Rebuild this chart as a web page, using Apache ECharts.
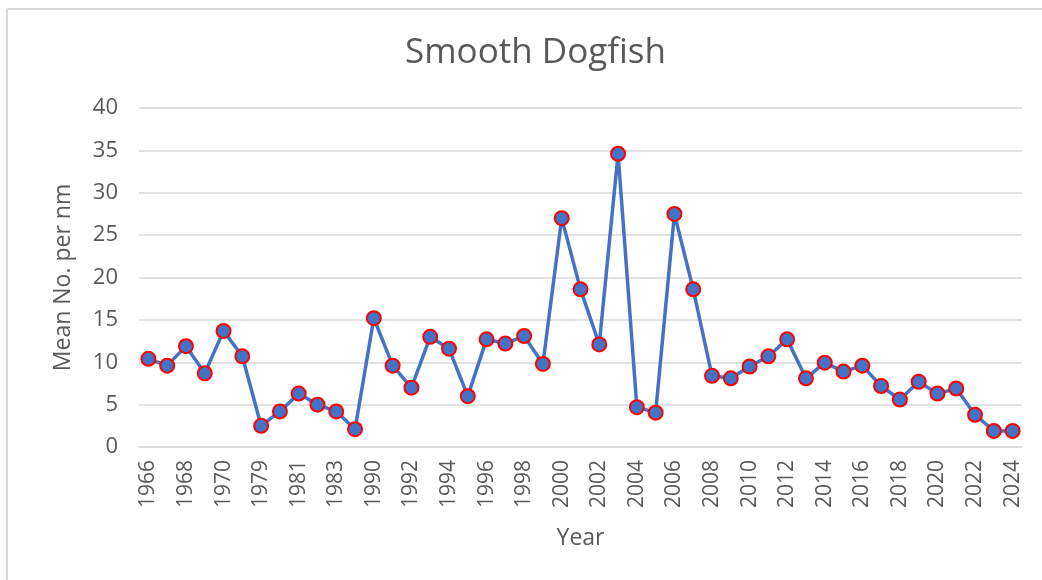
<!DOCTYPE html>
<html>
<head>
<meta charset="utf-8">
<script src="https://cdn.jsdelivr.net/npm/echarts@6/dist/echarts.min.js"></script>
<style>html,body{margin:0;padding:0;background:#fff}#c{width:1042px;height:580px}</style>
</head>
<body>
<div id="c"></div>
<script>
const years = ['1966','1967','1968','1969','1970','1971','1979','1980','1981','1982','1983','1984',
  '1990','1991','1992','1993','1994','1995','1996','1997','1998','1999','2000','2001','2002','2003',
  '2004','2005','2006','2007','2008','2009','2010','2011','2012','2013','2014','2015','2016','2017',
  '2018','2019','2020','2021','2022','2023','2024'];
const meanPerNm = [10.4,9.6,11.9,8.7,13.7,10.7,2.5,4.2,6.3,5.0,4.2,2.1,
  15.2,9.6,7.0,13.0,11.6,6.0,12.7,12.2,13.1,9.8,27.0,18.6,12.1,34.6,
  4.7,4.05,27.5,18.6,8.4,8.1,9.5,10.7,12.7,8.1,9.95,8.9,9.6,7.2,
  5.6,7.7,6.3,6.9,3.8,1.9,1.9];
const yTicks = [0,5,10,15,20,25,30,35,40];

const chart = echarts.init(document.getElementById('c'));
const font = '"Open Sans", "Noto Sans", sans-serif';
chart.setOption({
  animation: false,
  backgroundColor: '#fff',
  title: {
    text: 'Smooth Dogfish', left: 400, top: 31,
    textStyle: {fontFamily: font, fontSize: 35, fontWeight: 'normal', color: '#595959'}
  },
  graphic: [
    {type: 'line', shape: {x1: 7, y1: 9, x2: 7, y2: 580}, style: {stroke: '#d9d9d9', lineWidth: 2}},
    {type: 'line', shape: {x1: 7, y1: 9, x2: 1042, y2: 9}, style: {stroke: '#d9d9d9', lineWidth: 2}}
  ],
  grid: {left: 139, right: 20, top: 108, bottom: 133},
  xAxis: {
    type: 'category', data: years, boundaryGap: true,
    name: 'Year', nameLocation: 'middle', nameGap: 80,
    nameTextStyle: {fontFamily: font, fontSize: 23, color: '#595959'},
    axisLine: {show: true, lineStyle: {color: '#d9d9d9', width: 1.5}},
    axisTick: {show: false},
    axisLabel: {interval: 1, rotate: 90, fontFamily: font, fontSize: 21, color: '#595959', margin: 13}
  },
  yAxis: {
    type: 'value', min: 0, max: 40, interval: 5,
    name: 'Mean No. per nm', nameLocation: 'middle', nameGap: 64,
    nameTextStyle: {fontFamily: font, fontSize: 23, color: '#595959'},
    axisLine: {show: false}, axisTick: {show: false},
    axisLabel: {fontFamily: font, fontSize: 22, color: '#595959', margin: 21,
      formatter: v => yTicks.includes(v) ? String(v) : ''},
    splitLine: {lineStyle: {color: '#d9d9d9', width: 1.5}}
  },
  series: [{
    type: 'line', data: meanPerNm,
    symbol: 'circle', symbolSize: 14, showAllSymbol: true,
    lineStyle: {color: '#4472C4', width: 3.5},
    itemStyle: {color: '#4472C4', borderColor: '#ff0000', borderWidth: 2}
  }]
});
</script>
</body>
</html>
